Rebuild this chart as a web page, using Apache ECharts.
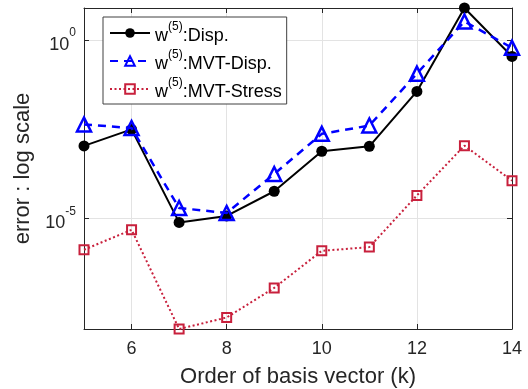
<!DOCTYPE html>
<html>
<head>
<meta charset="utf-8">
<script src="https://cdn.jsdelivr.net/npm/echarts@6/dist/echarts.min.js"></script>
<style>
  html, body { margin: 0; padding: 0; background: #fff; }
  #chart { width: 528px; height: 389px; }
</style>
</head>
<body>
<div id="chart"></div>
<script>
// order of basis vector k
const orders = ['5', '6', '7', '8', '9', '10', '11', '12', '13', '14'];
// error values
const dispErr      = [1.1e-3, 3.2e-3, 7.9e-6, 1.2e-5, 5.9e-5, 7.8e-4, 1.07e-3, 3.7e-2, 8.1, 0.355];
const mvtDispErr   = [4.4e-3, 3.5e-3, 2.0e-5, 1.45e-5, 1.8e-4, 2.4e-3, 4.1e-3, 0.117, 3.4, 0.62];
const mvtStressErr = [1.35e-6, 4.9e-6, 8.1e-9, 1.7e-8, 1.15e-7, 1.26e-6, 1.6e-6, 4.5e-5, 1.12e-3, 1.17e-4];
const seriesNames  = ['w(5):Disp.', 'w(5):MVT-Disp.', 'w(5):MVT-Stress'];
const yTicks       = [1e-5, 1];

const all = dispErr.concat(mvtDispErr, mvtStressErr);
const yMin = Math.min(...all);
const yMax = Math.max(...all);

const axisColor = '#262626';
const gridColor = '#e3e3e3';
const fontFamily = '"Liberation Sans", Arial, sans-serif';
const evenOnly = (i) => Number(orders[i]) % 2 === 0;

const chart = echarts.init(document.getElementById('chart'));

const option = {
    animation: false,
    textStyle: { fontFamily: fontFamily },
    grid: { left: 84, right: 16, top: 8, bottom: 60, outerBoundsMode: 'none' },
    legend: {
        left: 103,
        top: 17,
        orient: 'vertical',
        itemWidth: 40,
        itemHeight: 12,
        itemGap: 4,
        padding: [4, 5, 3, 6],
        backgroundColor: '#fff',
        borderColor: '#404040',
        borderWidth: 1,
        borderRadius: 0,
        data: seriesNames,
        formatter: (name) => {
            const parts = name.split(':');
            return '{b|w}{s|(5)}{b|:' + parts[1] + '}';
        },
        textStyle: {
            rich: {
                b: { fontSize: 18, color: '#000', fontFamily: fontFamily, padding: [6, 0, 0, 0] },
                s: { fontSize: 12, color: '#000', fontFamily: fontFamily, verticalAlign: 'top' }
            }
        }
    },
    xAxis: [
        {
            type: 'category',
            data: orders,
            boundaryGap: false,
            name: 'Order of basis vector (k)',
            nameLocation: 'middle',
            nameGap: 37,
            nameTextStyle: { fontSize: 22, color: axisColor },
            axisLine: { lineStyle: { color: axisColor, width: 1 } },
            axisTick: { inside: true, length: 5, interval: (i) => evenOnly(i), lineStyle: { color: axisColor } },
            axisLabel: { fontSize: 18, color: axisColor, margin: 11, interval: (i) => evenOnly(i) },
            splitLine: { show: true, interval: (i) => evenOnly(i), lineStyle: { color: gridColor } }
        },
        {
            type: 'category',
            data: orders,
            boundaryGap: false,
            position: 'top',
            axisLine: { lineStyle: { color: axisColor, width: 1 } },
            axisTick: { inside: true, length: 5, interval: (i) => evenOnly(i), lineStyle: { color: axisColor } },
            axisLabel: { show: false },
            splitLine: { show: false }
        }
    ],
    yAxis: [
        {
            type: 'log',
            logBase: 10,
            min: yMin,
            max: yMax,
            name: 'error : log scale',
            nameLocation: 'middle',
            nameGap: 40,
            nameTextStyle: { fontSize: 22, color: axisColor },
            axisLine: { show: true, lineStyle: { color: axisColor, width: 1 } },
            axisTick: { show: true, inside: true, length: 5, customValues: yTicks, lineStyle: { color: axisColor } },
            minorTick: { show: false },
            axisLabel: {
                color: axisColor,
                margin: 8,
                customValues: yTicks,
                formatter: (v) => '{b|10}{s|' + Math.round(Math.log10(v)) + '}',
                rich: {
                    b: { fontSize: 18, color: axisColor, fontFamily: fontFamily, padding: [9, 0, 0, 0] },
                    s: { fontSize: 12, color: axisColor, fontFamily: fontFamily, verticalAlign: 'top' }
                }
            },
            splitLine: { show: true, customValues: yTicks, lineStyle: { color: gridColor } }
        },
        {
            type: 'log',
            logBase: 10,
            min: yMin,
            max: yMax,
            position: 'right',
            axisLine: { show: true, lineStyle: { color: axisColor, width: 1 } },
            axisTick: { show: true, inside: true, length: 5, customValues: yTicks, lineStyle: { color: axisColor } },
            axisLabel: { show: false },
            splitLine: { show: false }
        }
    ],
    series: [
        {
            name: seriesNames[0],
            type: 'line',
            data: dispErr,
            symbol: 'circle',
            symbolSize: 11,
            lineStyle: { color: '#000', width: 2 },
            itemStyle: { color: '#000' },
            z: 2
        },
        {
            name: seriesNames[1],
            type: 'line',
            data: mvtDispErr,
            symbol: 'triangle',
            symbolSize: 14,
            lineStyle: { color: '#0000ff', width: 2.5, type: [8, 6] },
            itemStyle: { color: 'rgba(0,0,0,0)', borderColor: '#0000ff', borderWidth: 2.5 },
            z: 3
        },
        {
            name: seriesNames[2],
            type: 'line',
            data: mvtStressErr,
            symbol: 'rect',
            symbolSize: 9,
            lineStyle: { color: '#c8203c', width: 2, type: [2, 2.5] },
            itemStyle: { color: 'rgba(0,0,0,0)', borderColor: '#c8203c', borderWidth: 2 },
            z: 4
        }
    ]
};

chart.setOption(option);
</script>
</body>
</html>
